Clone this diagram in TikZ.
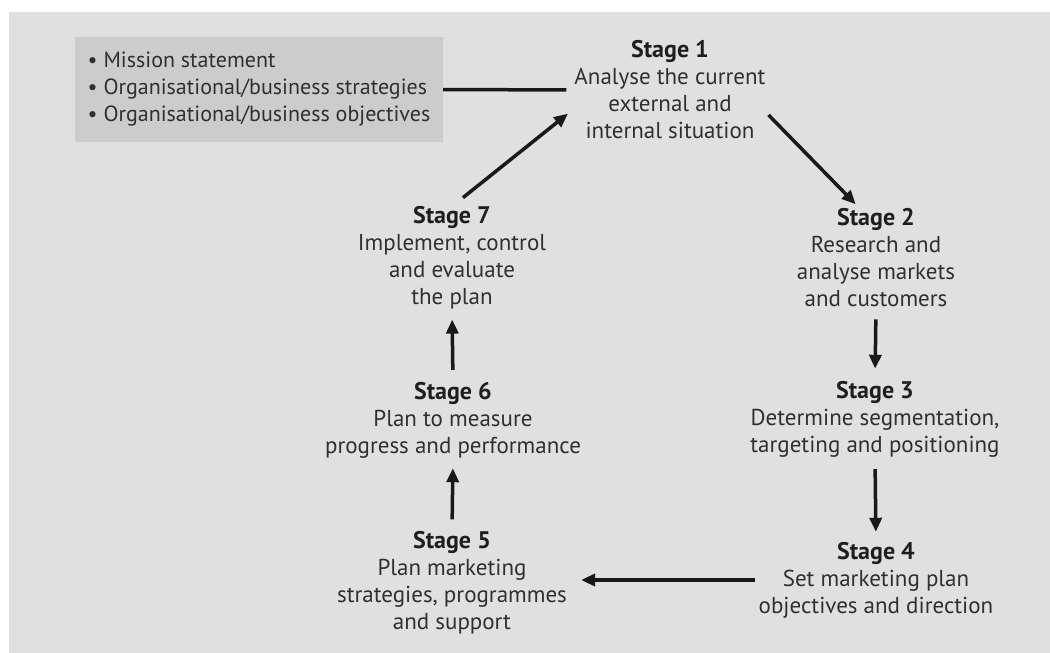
\documentclass[tikz,border=0pt]{standalone}
\usepackage{fontspec}
\setmainfont{PT Sans}
\usetikzlibrary{arrows.meta}
\definecolor{panelgrey}{HTML}{E0E0E0}
\definecolor{boxgrey}{HTML}{CCCCCC}
\definecolor{inkgrey}{HTML}{303030}
\definecolor{titlegrey}{HTML}{1E1E1E}
\newcommand{\stagetitle}[1]{\textcolor{titlegrey}{\fontsize{24}{27}\selectfont\bfseries #1}}

\begin{document}
\begin{tikzpicture}[x=1pt, y=-1pt, stagenode/.style={align=center, inner sep=0pt, text=inkgrey, font=\fontsize{23}{27}\selectfont}, flow/.style={line width=3.5pt, color=black!90, -{Triangle[length=14pt, width=12pt]}}]
\useasboundingbox (0,0) rectangle (1050,653);
\fill[panelgrey] (9,12) rectangle (1050,653);
%\fill[boxgrey] (75,37) rectangle (443,142);
\node[fill=boxgrey, minimum width=368pt, minimum height=105pt, align=left, inner sep=0pt, text=inkgrey, font=\fontsize{22}{27}\selectfont] at (259,89.5) (goals) {\textbullet\ Mission statement\\\textbullet\ Organisational/business strategies\\\textbullet\ Organisational/business objectives};
\node[stagenode] at (670,90) (st1) {\stagetitle{Stage 1}\\Analyse the current\\external and\\internal situation};
\node[stagenode] at (876,258) (st2) {\stagetitle{Stage 2}\\Research and\\analyse markets\\and customers};
\node[stagenode] at (875,419) (st3) {\stagetitle{Stage 3}\\Determine segmentation,\\targeting and positioning};
\node[stagenode] at (876,580) (st4) {\stagetitle{Stage 4}\\Set marketing plan\\objectives and direction};
\node[stagenode] at (452,583) (st5) {\stagetitle{Stage 5}\\Plan marketing\\strategies, programmes\\and support};
\node[stagenode] at (453,420) (st6) {\stagetitle{Stage 6}\\Plan to measure\\progress and performance};
\node[stagenode] at (452,258) (st7) {\stagetitle{Stage 7}\\Implement, control\\and evaluate\\the plan};
\draw[line width=3.5pt, color=black!90, shorten >=8pt] (goals.east) -- (st1.west);
\draw[flow, shorten <=4pt, shorten >=6pt] (st1.-13) -- (st2.108);
\draw[flow, shorten <=12pt, shorten >=12pt] (st2.south) -- (st3.north);
\draw[flow, shorten <=12pt, shorten >=10pt] (st3.south) -- (st4.north);
\draw[flow, shorten <=4pt, shorten >=14pt] (st4.west) -- (st4.west -| st5.east);
\draw[flow, shorten <=12pt, shorten >=10pt] (st5.north) -- (st6.south);
\draw[flow, shorten <=12pt, shorten >=10pt] (st6.north) -- (st7.south);
\draw[flow, shorten <=14pt, shorten >=8pt] (st7.north) -- (st1.191);
\end{tikzpicture}
\end{document}
